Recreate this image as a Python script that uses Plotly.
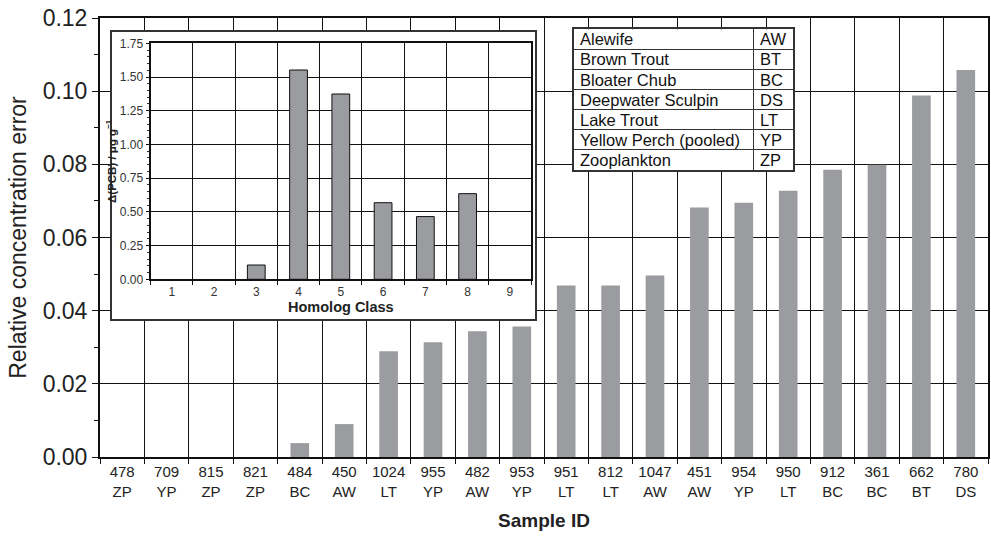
import plotly.graph_objects as go

# ---- data ----
sample_ids = ['478', '709', '815', '821', '484', '450', '1024', '955', '482', '953',
              '951', '812', '1047', '451', '954', '950', '912', '361', '662', '780']
species = ['ZP', 'YP', 'ZP', 'ZP', 'BC', 'AW', 'LT', 'YP', 'AW', 'YP',
           'LT', 'LT', 'AW', 'AW', 'YP', 'LT', 'BC', 'BC', 'BT', 'DS']
rel_error = [0, 0, 0, 0, 0.0038, 0.009, 0.0289, 0.0314, 0.0344, 0.0357,
             0.0469, 0.0469, 0.0496, 0.0682, 0.0695, 0.0728, 0.0785, 0.0799, 0.0988, 0.1058]

homolog_class = ['1', '2', '3', '4', '5', '6', '7', '8', '9']
delta_pcb = [0, 0, 0.106, 1.552, 1.374, 0.568, 0.465, 0.635, 0]

legend_names = ['Alewife', 'Brown Trout', 'Bloater Chub', 'Deepwater Sculpin',
                'Lake Trout', 'Yellow Perch (pooled)', 'Zooplankton']
legend_codes = ['AW', 'BT', 'BC', 'DS', 'LT', 'YP', 'ZP']

main_ticks = [0.00, 0.02, 0.04, 0.06, 0.08, 0.10, 0.12]
inset_ticks = [0.00, 0.25, 0.50, 0.75, 1.00, 1.25, 1.50, 1.75]

FONT = 'Liberation Sans, Arial, Helvetica, sans-serif'
BAR = '#9b9ca0'

x_labels = [f'{s}<br>{c}' for s, c in zip(sample_ids, species)]

fig = go.Figure()

# main bars
fig.add_trace(go.Bar(x=x_labels, y=rel_error, width=0.42, marker=dict(color=BAR, line=dict(width=0)),
                     xaxis='x', yaxis='y', showlegend=False))
# inset frame subplot (dummy)
fig.add_trace(go.Scatter(x=[0.5], y=[0.5], mode='markers', marker=dict(opacity=0),
                         hoverinfo='skip', showlegend=False, xaxis='x2', yaxis='y2'))
# inset bars (no outline on zero-height bars)
fig.add_trace(go.Bar(x=homolog_class, y=delta_pcb, width=0.42,
                     marker=dict(color=BAR, line=dict(color='#111', width=[1 if v > 0 else 0 for v in delta_pcb])),
                     xaxis='x3', yaxis='y3', showlegend=False))
# legend table subplot (dummy)
fig.add_trace(go.Scatter(x=[1], y=[1], mode='markers', marker=dict(opacity=0),
                         hoverinfo='skip', showlegend=False, xaxis='x4', yaxis='y4'))

# px -> paper helpers for domains
W_L, W_R, H_T, H_B = 100, 990, 18, 457
def fx(px):
    return (px - W_L) / (W_R - W_L)
def fy(py):
    return (H_B - py) / (H_B - H_T)

# legend table annotations
annotations = []
n = len(legend_names)
for i, (nm, cd) in enumerate(zip(legend_names, legend_codes)):
    yy = n - 0.5 - i
    annotations.append(dict(x=4, y=yy, xref='x4', yref='y4', text=nm, showarrow=False,
                            xanchor='left', yanchor='middle',
                            font=dict(family=FONT, size=16.5, color='#111')))
    annotations.append(dict(x=184, y=yy, xref='x4', yref='y4', text=cd, showarrow=False,
                            xanchor='left', yanchor='middle',
                            font=dict(family=FONT, size=16.5, color='#111')))

fig.update_layout(
    width=991, height=540,
    margin=dict(l=W_L, r=991 - W_R, t=H_T, b=540 - H_B),
    paper_bgcolor='white', plot_bgcolor='white',
    font=dict(family=FONT, color='#222'),
    annotations=annotations,
    xaxis=dict(
        type='category', domain=[0, 1], anchor='y',
        tickson='boundaries', ticks='outside', ticklen=5, tickcolor='#111', tickwidth=1.2,
        showgrid=True, gridcolor='#111', gridwidth=1.2,
        showline=True, linecolor='#111', linewidth=2, mirror=True,
        tickfont=dict(family=FONT, size=15, color='#222'),
        title=dict(text='<b>Sample ID</b>', font=dict(family=FONT, size=19, color='#222'), standoff=15),
        range=[-0.5, len(x_labels) - 0.5],
    ),
    yaxis=dict(
        domain=[0, 1], anchor='x', range=[0, 0.12],
        tickvals=main_ticks, tickformat='.2f',
        ticks='outside', ticklen=6, tickcolor='#111', tickwidth=1.2,
        minor=dict(dtick=0.01, ticks='outside', ticklen=4, tickcolor='#111', showgrid=False),
        showgrid=True, gridcolor='#111', gridwidth=1.2, zeroline=False,
        showline=True, linecolor='#111', linewidth=2, mirror=True,
        tickfont=dict(family=FONT, size=23, color='#222'),
        title=dict(text='Relative concentration error', font=dict(family=FONT, size=23, color='#222'),
                   standoff=10),
    ),
    # inset frame
    xaxis2=dict(domain=[fx(112), fx(536)], anchor='y2', range=[0, 1], showgrid=False, zeroline=False,
                showticklabels=False, ticks='', showline=True, linecolor='#333', linewidth=1.5, mirror=True,
                fixedrange=True),
    yaxis2=dict(domain=[fy(319), fy(31.7)], anchor='x2', range=[0, 1], showgrid=False, zeroline=False,
                showticklabels=False, ticks='', showline=True, linecolor='#333', linewidth=1.5, mirror=True,
                fixedrange=True),
    # inset plot
    xaxis3=dict(
        type='category', domain=[fx(150.7), fx(532)], anchor='y3',
        tickson='boundaries', ticks='outside', ticklen=4, tickcolor='#111',
        showgrid=True, gridcolor='#111', gridwidth=1.2,
        showline=True, linecolor='#111', linewidth=2, mirror=True,
        tickfont=dict(family=FONT, size=12, color='#333'),
        title=dict(text='<b>Homolog Class</b>', font=dict(family=FONT, size=14.5, color='#222'), standoff=2),
        range=[-0.5, 8.5],
    ),
    yaxis3=dict(
        domain=[fy(279.3), fy(43.3)], anchor='x3', range=[0, 1.75],
        tickvals=inset_ticks, tickformat='.2f',
        ticks='outside', ticklen=3, tickcolor='#111',
        minor=dict(dtick=0.05, ticks='outside', ticklen=2, tickcolor='#333', showgrid=False),
        showgrid=True, gridcolor='#111', gridwidth=1.2, zeroline=False,
        showline=True, linecolor='#111', linewidth=2, mirror=True,
        tickfont=dict(family=FONT, size=12, color='#333'),
        title=dict(text='<b>Δ(PCB) / μg g<sup>−1</sup></b>', font=dict(family=FONT, size=11.5, color='#222'),
                   standoff=1),
    ),
    # legend table
    xaxis4=dict(domain=[fx(575), fx(795)], anchor='y4', range=[0, 220],
                tickvals=[180], showticklabels=False, ticks='',
                showgrid=True, gridcolor='#333', gridwidth=1.2, zeroline=False,
                showline=True, linecolor='#333', linewidth=1.5, mirror=True, fixedrange=True),
    yaxis4=dict(domain=[fy(170), fy(29.3)], anchor='x4', range=[0, 7],
                tickvals=[1, 2, 3, 4, 5, 6], showticklabels=False, ticks='',
                showgrid=True, gridcolor='#333', gridwidth=1.2, zeroline=False,
                showline=True, linecolor='#333', linewidth=1.5, mirror=True, fixedrange=True),
)

fig.write_html('out.html', config={'displayModeBar': False},
               post_script="document.body.style.margin='0px';")
